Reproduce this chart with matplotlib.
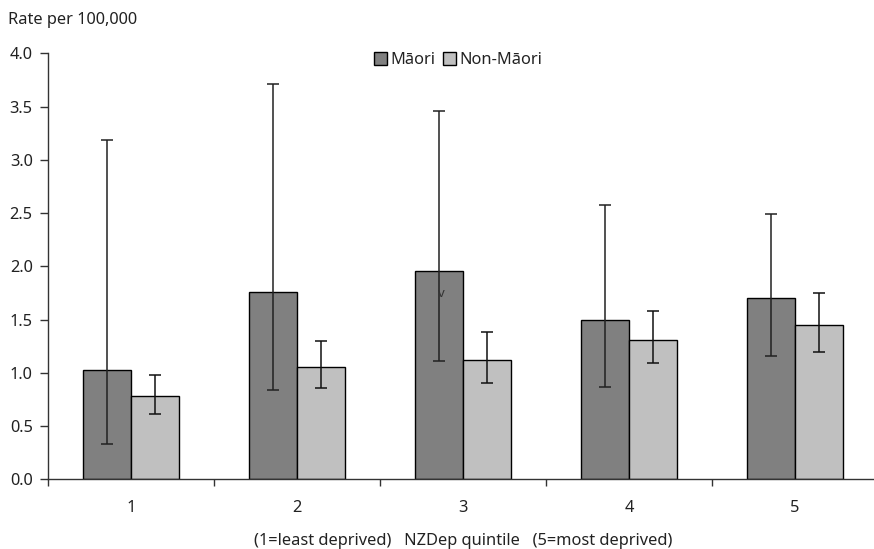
import matplotlib
matplotlib.use("Agg")
import matplotlib.pyplot as plt
from matplotlib.ticker import FixedLocator, NullFormatter
import numpy as np

plt.rcParams['font.family'] = ['Noto Sans', 'DejaVu Sans']

categories = ["1", "2", "3", "4", "5"]
maori = [1.03, 1.76, 1.96, 1.50, 1.70]
maori_low = [0.33, 0.84, 1.11, 0.87, 1.16]
maori_high = [3.19, 3.71, 3.46, 2.58, 2.49]
nonmaori = [0.78, 1.05, 1.12, 1.31, 1.45]
nonmaori_low = [0.61, 0.86, 0.90, 1.09, 1.20]
nonmaori_high = [0.98, 1.30, 1.38, 1.58, 1.75]
yticks = [0.0, 0.5, 1.0, 1.5, 2.0, 2.5, 3.0, 3.5, 4.0]

FS = 11.8
W, H = 874, 549
fig = plt.figure(figsize=(W / 100, H / 100), dpi=100)
ax = fig.add_axes([48 / W, (H - 479.3) / H, 830 / W, 426 / H])

x = np.arange(len(categories)) + 0.5
bw = 0.29
m = np.array(maori); n = np.array(nonmaori)
ax.bar(x - bw / 2, m, bw, color="#808080", edgecolor="black", linewidth=1.0, label="Māori", zorder=2)
ax.bar(x + bw / 2, n, bw, color="#c0c0c0", edgecolor="black", linewidth=1.0, label="Non-Māori", zorder=2)
ax.errorbar(x - bw / 2, m, yerr=[m - np.array(maori_low), np.array(maori_high) - m],
            fmt="none", ecolor="#222222", elinewidth=1.1, capsize=4, capthick=1.1, zorder=3)
ax.errorbar(x + bw / 2, n, yerr=[n - np.array(nonmaori_low), np.array(nonmaori_high) - n],
            fmt="none", ecolor="#111111", elinewidth=1.1, capsize=4, capthick=1.1, zorder=3)

ax.set_xlim(0, 5)
ax.set_ylim(0, 4.0)
ax.set_yticks(yticks)
ax.set_yticklabels([f"{v:.1f}" for v in yticks], fontsize=FS, color="#222222")
ax.xaxis.set_major_locator(FixedLocator(np.arange(0, 6)))
ax.xaxis.set_major_formatter(NullFormatter())
ax.xaxis.set_minor_locator(FixedLocator(x))
ax.set_xticklabels(categories, minor=True, fontsize=FS, color="#222222")
ax.tick_params(axis="x", which="major", direction="out", length=5, width=1, color="#333333")
ax.tick_params(axis="x", which="minor", length=0, pad=15)
ax.tick_params(axis="y", direction="out", length=6, width=1, color="#333333", pad=5)
for s in ["top", "right"]:
    ax.spines[s].set_visible(False)
for s in ["left", "bottom"]:
    ax.spines[s].set_color("#333333")
    ax.spines[s].set_linewidth(1.0)

ax.set_xlabel("(1=least deprived)   NZDep quintile   (5=most deprived)", fontsize=FS,
              color="#222222", labelpad=12)
fig.text(8 / W, 1 - 20 / H, "Rate per 100,000", fontsize=FS, color="#222222", va="center", ha="left")
ax.text(2.37, 1.74, "v", fontsize=9.5, color="#333333", ha="center", va="center", zorder=4)

leg = ax.legend(loc="center", bbox_to_anchor=(458 / W, 1 - 60 / H), bbox_transform=fig.transFigure,
                ncol=2, frameon=False, fontsize=FS, handlelength=0.8, handleheight=0.8,
                handletextpad=0.2, columnspacing=0.5)
for t in leg.get_texts():
    t.set_color("#222222")

fig.savefig("out.png", dpi=100)
